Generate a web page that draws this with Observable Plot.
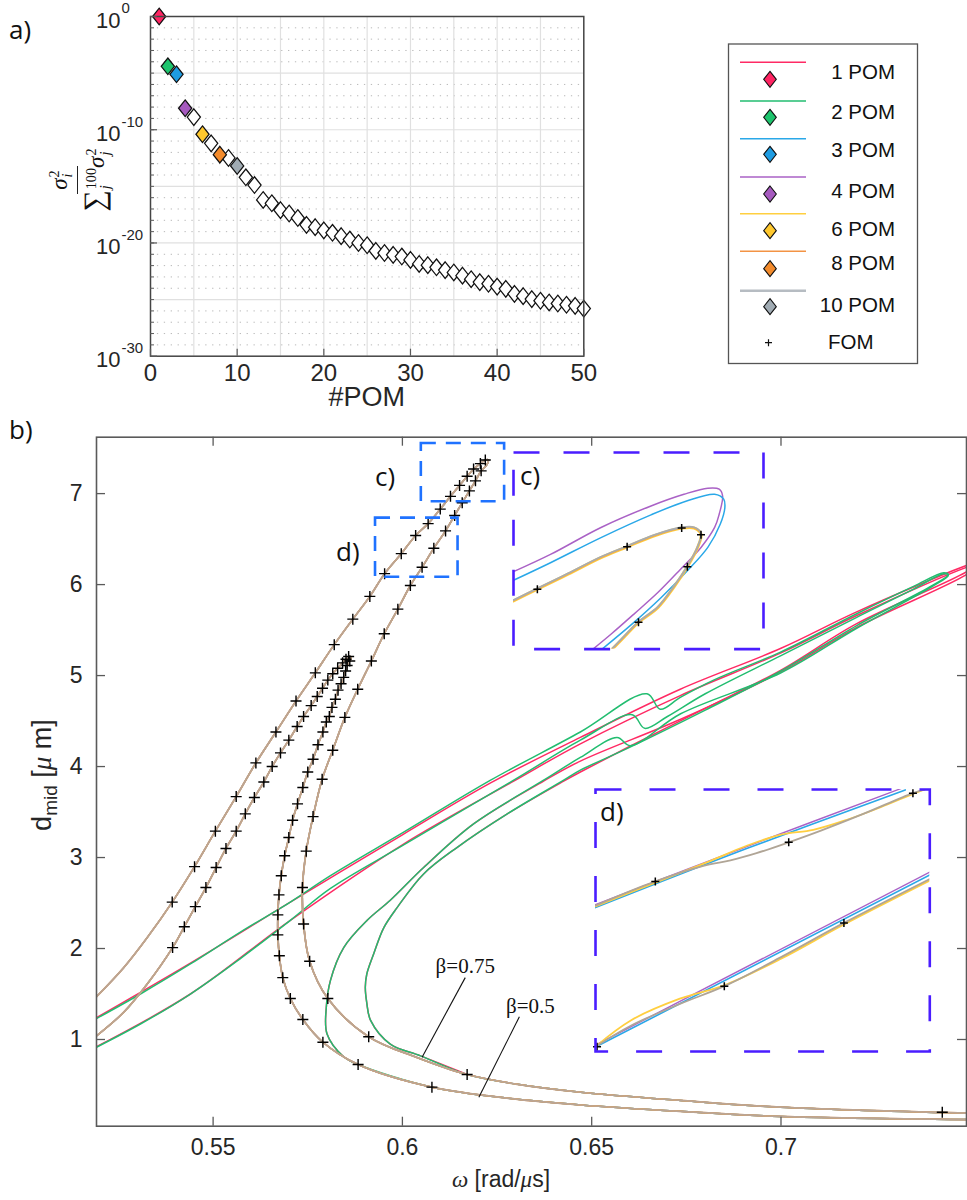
<!DOCTYPE html>
<html><head><meta charset="utf-8">
<script src="https://cdn.jsdelivr.net/npm/d3@7"></script>
<script src="https://cdn.jsdelivr.net/npm/@observablehq/plot@0.6"></script>
<style>
html,body{margin:0;padding:0;background:#fff;}
#root{position:relative;width:967px;height:1200px;overflow:hidden;font-family:"Liberation Sans",Arial,sans-serif;color:#1a1a1a;}
#root > *{position:absolute;}
.tag{font-family:"Open Sans","Noto Sans",sans-serif;font-size:26px;line-height:1;color:#111;}
.it{font-family:"Liberation Serif","DejaVu Serif",serif;font-style:italic;}
.frac{display:inline-flex;flex-direction:column;align-items:center;font-family:"Liberation Serif","DejaVu Serif",serif;font-size:23px;line-height:1.0;color:#111;}
.frac .num{padding:0 4px 2px;border-bottom:1.6px solid #222;}
.frac .den{padding-top:1px;}
.ss{display:inline-flex;flex-direction:column;font-size:0.62em;line-height:0.95;vertical-align:middle;margin-left:1px;}
</style></head>
<body><div id="root"></div>
<script>
// ---------------- DATA : panel a ----------------
const pomIndex = [1,2,3,4,5,6,7,8,9,10,11,12,13,14,15,16,17,18,19,20,21,22,23,24,25,26,27,28,29,30,31,32,33,34,35,36,37,38,39,40,41,42,43,44,45,46,47,48,49,50];
const energyRatio = [1e0,4.0e-5,7.9e-6,7.9e-9,1.3e-9,4.0e-11,6.3e-12,6.3e-13,3.2e-13,6.3e-14,6.3e-15,1.3e-15,6.3e-17,3.2e-17,7.9e-18,4.0e-18,1.6e-18,4.0e-19,2.5e-19,1.3e-19,7.9e-20,4.0e-20,2.0e-20,1.0e-20,6.3e-21,2.0e-21,1.3e-21,8.9e-22,6.3e-22,3.2e-22,1.4e-22,1.1e-22,7.1e-23,4.0e-23,2.5e-23,1.3e-23,6.3e-24,3.5e-24,2.5e-24,1.4e-24,8.9e-25,3.2e-25,2.0e-25,1.1e-25,7.9e-26,5.6e-26,4.5e-26,3.5e-26,2.8e-26,1.6e-26];
const highlightIndex = [1,2,3,4,6,8,10];
const seriesLabels = ["1 POM","2 POM","3 POM","4 POM","6 POM","8 POM","10 POM","FOM"];
const markerColors = ["#ff2462","#1dc46d","#1e9ce2","#a65abf","#ffc82e","#f38b2c","#a0abb3"];
const lineColors   = ["#ff2a64","#22bd70","#2aa8e8","#aa62c6","#ffcf40","#f39344","#b6bcc2"];
const aXTicks = [0,10,20,30,40,50];
const aYTicks = [1,1e-10,1e-20,1e-30];
const aYTickExp = ["0","-10","-20","-30"];

// ---------------- DATA : panel b (omega [rad/us], d_mid [um]) ----------------
const omegaTicks = [0.55,0.6,0.65,0.7];
const dTicks = [1,2,3,4,5,6,7];

// beta = 0.75 : full order model points
const fomOuterW = [0.5392,0.5451,0.5506,0.5561,0.5613,0.5666,0.5719,0.5770,0.5820,0.5869,0.5914,0.5953,0.5997,0.6035,0.6068,0.6100,0.6127,0.6151,0.6171,0.6188,0.6206,0.6219,0.6208,0.6193,0.6177,0.6158,0.6138,0.6114,0.6083,0.6052,0.6021,0.5988,0.5952,0.5918,0.5882,0.5848,0.5816,0.5788,0.5764,0.5746,0.5736,0.5739,0.5755,0.5803,0.5911,0.6171,0.7426];
const fomOuterD = [2.51,2.90,3.29,3.67,4.04,4.38,4.72,5.03,5.34,5.62,5.87,6.12,6.34,6.54,6.67,6.83,6.97,7.09,7.19,7.27,7.33,7.37,7.25,7.14,7.03,6.90,6.76,6.59,6.40,6.19,5.99,5.73,5.46,5.16,4.85,4.54,4.18,3.86,3.45,3.07,2.67,2.27,1.86,1.45,1.03,0.615,0.20];
// beta = 0.5 : full order model points
const fomInnerW = [0.5393,0.5424,0.5453,0.5481,0.5508,0.5534,0.5561,0.5585,0.5609,0.5634,0.5656,0.5678,0.5700,0.5722,0.5739,0.5759,0.5775,0.5789,0.5803,0.5816,0.5829,0.5842,0.5851,0.5858,0.5861,0.5854,0.5850,0.5845,0.5838,0.5830,0.5823,0.5814,0.5807,0.5799,0.5790,0.5777,0.5764,0.5750,0.5737,0.5723,0.5710,0.5700,0.5689,0.5680,0.5674,0.5671,0.5671,0.5675,0.5684,0.5704,0.5737,0.5790,0.5883,0.6078];
const fomInnerD = [2.01,2.24,2.46,2.67,2.89,3.10,3.29,3.48,3.66,3.83,4.00,4.15,4.29,4.44,4.55,4.67,4.77,4.86,4.95,5.02,5.08,5.14,5.18,5.21,5.16,5.11,5.05,4.98,4.91,4.84,4.74,4.65,4.55,4.49,4.38,4.24,4.08,3.94,3.77,3.59,3.41,3.22,3.02,2.80,2.59,2.37,2.15,1.92,1.68,1.45,1.22,0.97,0.725,0.476];

// converged POM response curves (3..10 POM overlap at this scale)
const pomOuterW = [0.5192,0.5264,0.5326,0.5392,0.5451,0.5506,0.5561,0.5613,0.5666,0.5719,0.5770,0.5820,0.5869,0.5914,0.5953,0.5997,0.6035,0.6068,0.6100,0.6127,0.6151,0.6171,0.6188,0.6206,0.6219,0.6227,0.6222,0.6208,0.6193,0.6177,0.6158,0.6138,0.6114,0.6083,0.6052,0.6021,0.5988,0.5952,0.5918,0.5882,0.5848,0.5816,0.5788,0.5764,0.5746,0.5736,0.5739,0.5755,0.5803,0.5911,0.6040,0.6171,0.6300,0.6471,0.6735,0.6999,0.7493];
const pomOuterD = [1.47,1.79,2.12,2.51,2.90,3.29,3.67,4.04,4.38,4.72,5.03,5.34,5.62,5.87,6.12,6.34,6.54,6.67,6.83,6.97,7.09,7.19,7.27,7.33,7.37,7.37,7.31,7.25,7.14,7.03,6.90,6.76,6.59,6.40,6.19,5.99,5.73,5.46,5.16,4.85,4.54,4.18,3.86,3.45,3.07,2.67,2.27,1.86,1.45,1.03,0.80,0.615,0.51,0.42,0.33,0.256,0.19];
const pomInnerW = [0.5192,0.5264,0.5326,0.5393,0.5424,0.5453,0.5481,0.5508,0.5534,0.5561,0.5585,0.5609,0.5634,0.5656,0.5678,0.5700,0.5722,0.5739,0.5759,0.5775,0.5789,0.5803,0.5816,0.5829,0.5842,0.5851,0.5858,0.5864,0.5861,0.5854,0.5850,0.5845,0.5838,0.5830,0.5823,0.5814,0.5807,0.5799,0.5790,0.5777,0.5764,0.5750,0.5737,0.5723,0.5710,0.5700,0.5689,0.5680,0.5674,0.5671,0.5671,0.5675,0.5684,0.5704,0.5737,0.5790,0.5883,0.6078,0.6300,0.6471,0.6735,0.6999,0.7493];
const pomInnerD = [1.04,1.30,1.61,2.01,2.24,2.46,2.67,2.89,3.10,3.29,3.48,3.66,3.83,4.00,4.15,4.29,4.44,4.55,4.67,4.77,4.86,4.95,5.02,5.08,5.14,5.18,5.21,5.20,5.16,5.11,5.05,4.98,4.91,4.84,4.74,4.65,4.55,4.49,4.38,4.24,4.08,3.94,3.77,3.59,3.41,3.22,3.02,2.80,2.59,2.37,2.15,1.92,1.68,1.45,1.22,0.97,0.725,0.476,0.345,0.28,0.21,0.154,0.12];

// 2 POM (green) curves
const pom2OuterW = [0.5192,0.5308,0.5440,0.5572,0.5704,0.5810,0.6000,0.6233,0.6470,0.6646,0.6681,0.6734,0.6822,0.7000,0.7200,0.7350,0.7430,0.7442,0.7400,0.7200,0.7000,0.6800,0.6600,0.6470,0.6426,0.6277,0.6144,0.6056,0.5986,0.5951,0.5924,0.5906,0.5902,0.5906,0.5916,0.5968,0.6048,0.6171,0.6300,0.6471,0.6735,0.6999,0.7493];
const pom2OuterD = [1.23,1.50,1.83,2.18,2.51,2.80,3.27,3.85,4.38,4.80,4.63,4.76,4.95,5.26,5.68,5.98,6.13,6.11,5.99,5.55,5.05,4.62,4.21,3.96,3.85,3.48,3.11,2.82,2.45,2.23,1.94,1.72,1.575,1.40,1.21,0.95,0.82,0.615,0.51,0.42,0.33,0.256,0.19];
const pom2InnerW = [0.5192,0.5308,0.5440,0.5572,0.5704,0.5810,0.6000,0.6294,0.6470,0.6607,0.6640,0.6700,0.6800,0.7000,0.7200,0.7350,0.7430,0.7442,0.7400,0.7200,0.7000,0.6735,0.6602,0.6567,0.6470,0.6373,0.6188,0.6056,0.5968,0.5907,0.5845,0.5810,0.5799,0.5801,0.5845,0.5883,0.6078,0.6300,0.6471,0.6735,0.6999,0.7493];
const pom2InnerD = [0.915,1.17,1.50,1.89,2.31,2.66,3.13,3.85,4.29,4.57,4.42,4.55,4.80,5.22,5.64,5.95,6.12,6.10,5.98,5.52,5.03,4.58,4.23,4.32,4.10,3.85,3.37,2.89,2.53,2.31,2.01,1.65,1.355,1.06,0.81,0.725,0.476,0.345,0.28,0.21,0.154,0.12];
// 1 POM (red) curves
const pom1OuterW = [0.5192,0.5440,0.5704,0.6000,0.6233,0.6470,0.6734,0.7000,0.7200,0.7490,0.7530,0.7490,0.7200,0.7000,0.6800,0.6600,0.6470,0.6426,0.6277,0.6144,0.6056,0.5986,0.5951,0.5924,0.5906,0.5902,0.5906,0.5916,0.5968,0.6048,0.6171];
const pom1OuterD = [1.24,1.84,2.51,3.25,3.82,4.32,4.85,5.30,5.70,6.21,6.26,6.14,5.57,5.06,4.64,4.22,3.94,3.84,3.48,3.11,2.82,2.45,2.23,1.94,1.72,1.575,1.40,1.21,0.95,0.82,0.615];
const pom1InnerW = [0.5192,0.5440,0.5704,0.6000,0.6294,0.6470,0.6734,0.7000,0.7200,0.7490,0.7530,0.7490,0.7200,0.7000,0.6735,0.6470,0.6373,0.6188,0.6056,0.5968,0.5907,0.5845,0.5810,0.5799,0.5801,0.5845,0.5883];
const pom1InnerD = [0.92,1.50,2.31,3.14,3.84,4.25,4.78,5.25,5.66,6.19,6.24,6.11,5.53,5.04,4.52,4.06,3.84,3.37,2.89,2.53,2.31,2.01,1.65,1.355,1.06,0.81,0.725];

// beta annotations
const betaText = ["β=0.75","β=0.5"];
const betaTextW = [0.6166,0.6338], betaTextD = [1.81,1.36];
const betaLinkW1 = [0.6166,0.6309], betaLinkD1 = [1.68,1.25];
const betaLinkW2 = [0.6052,0.6202], betaLinkD2 = [0.805,0.366];
// zoom windows (c) and (d)
const zoomName = ["c","d"];
const zoomW1 = [0.605,0.5929], zoomW2 = [0.627,0.6147];
const zoomD1 = [6.91,6.08],    zoomD2 = [7.55,6.73];

// ---------------- DATA : inset c ----------------
const cPurpleW = [0.6050,0.6083,0.6127,0.6171,0.6200,0.6221,0.6231,0.6234,0.6231,0.6227,0.6215,0.6197,0.6177,0.6156,0.6136,0.6120];
const cPurpleD = [7.162,7.219,7.306,7.376,7.414,7.434,7.431,7.409,7.349,7.306,7.241,7.170,7.094,7.024,6.959,6.910];
const cBlueW = [0.6050,0.6083,0.6127,0.6171,0.6203,0.6227,0.6235,0.6236,0.6232,0.6221,0.6203,0.6180,0.6156,0.6128];
const cBlueD = [7.134,7.192,7.273,7.347,7.393,7.414,7.398,7.371,7.317,7.241,7.165,7.078,6.997,6.910];
const cPomW = [0.6050,0.6071,0.6098,0.6127,0.6150,0.6174,0.6198,0.6209,0.6215,0.6212,0.6203,0.6191,0.6177,0.6160,0.6147,0.6137];
const cPomD = [7.067,7.105,7.154,7.208,7.243,7.279,7.304,7.304,7.284,7.241,7.178,7.111,7.045,6.997,6.948,6.910];
const cFomW = [0.6071,0.6150,0.6198,0.6215,0.6203,0.6160];
const cFomD = [7.105,7.243,7.304,7.282,7.178,6.997];

// ---------------- DATA : inset d ----------------
const dPurpleUpW = [0.5929,0.6028,0.6128], dPurpleUpD = [6.444,6.589,6.732];
const dBlueUpW = [0.5929,0.6028,0.6131],   dBlueUpD = [6.437,6.584,6.729];
const dGrayUpW = [0.5929,0.5968,0.6000,0.6017,0.6034,0.6055,0.6076,0.6104,0.6136,0.6147];
const dGrayUpD = [6.442,6.502,6.541,6.554,6.572,6.599,6.628,6.670,6.721,6.734];
const dYellowUpW = [0.5929,0.5968,0.6002,0.6028,0.6050,0.6071,0.6093,0.6115,0.6136,0.6145];
const dYellowUpD = [6.440,6.499,6.550,6.591,6.618,6.630,6.655,6.686,6.719,6.732];
const dPurpleLoW = [0.5929,0.6147], dPurpleLoD = [6.096,6.525];
const dBlueLoW = [0.5929,0.6147],   dBlueLoD = [6.091,6.518];
const dGrayLoW = [0.5929,0.5952,0.5984,0.6013,0.6050,0.6091,0.6147];
const dGrayLoD = [6.092,6.144,6.198,6.242,6.314,6.399,6.508];
const dYellowLoW = [0.5929,0.5952,0.5984,0.6013,0.6050,0.6091,0.6147];
const dYellowLoD = [6.092,6.157,6.211,6.244,6.310,6.395,6.504];
const dFomW = [0.5968,0.6055,0.6136,0.5930,0.6013,0.6091];
const dFomD = [6.502,6.599,6.721,6.092,6.242,6.399];

// ---------------- helpers ----------------
const root = document.getElementById("root");
function put(el, left, top){ el.style.left = left + "px"; el.style.top = top + "px"; root.appendChild(el); return el; }
function html(str){ const d = document.createElement("div"); d.innerHTML = str; return d.firstElementChild; }
const pts = (w, d) => w.map((x, i) => ({w: x, d: d[i]}));
const diamond = {draw(ctx){ ctx.moveTo(0,-8.3); ctx.lineTo(6.6,0); ctx.lineTo(0,8.3); ctx.lineTo(-6.6,0); ctx.closePath(); }};
const plus = s => ({draw(ctx){ ctx.moveTo(-s,0); ctx.lineTo(s,0); ctx.moveTo(0,-s); ctx.lineTo(0,s); }});
const baseStyle = {background:"transparent", fontFamily:"Liberation Sans, Arial, sans-serif", color:"#262626", overflow:"visible"};
const axisGray = "#5a5a5a";

// ---------------- panel a ----------------
{
  const W = 600, H = 420, mL = 150, mT = 16, mR = 16.7, mB = 64.3;
  const innerW = W - mL - mR, innerH = H - mT - mB;
  const aData = pomIndex.map((n, i) => ({n, v: energyRatio[i], fill: highlightIndex.includes(n) ? markerColors[highlightIndex.indexOf(n)] : "#ffffff"}));
  const majorDec = [1e-5,1e-10,1e-15,1e-20,1e-25];
  const minorDec = [];
  for (let e = -1; e > -30; e--) if (e % 5 !== 0) minorDec.push(Math.pow(10, e));
  const xGrid = [5,10,15,20,25,30,35,40,45];
  const allDec = [...majorDec, ...minorDec];
  const plotA = Plot.plot({
    width: W, height: H, marginLeft: mL, marginTop: mT, marginRight: mR, marginBottom: mB,
    x: {domain: [0, 50]},
    y: {type: "log", domain: [1e-30, 1], axis: null},
    color: {type: "identity"},
    style: {...baseStyle, fontSize: "22px"},
    marks: [
      Plot.ruleY(minorDec, {stroke: "#b9b9b9", strokeDasharray: "1.3,5.6", strokeWidth: 1}),
      Plot.ruleX(xGrid, {stroke: "#e0e0e0", strokeWidth: 1.2}),
      Plot.ruleY(majorDec, {stroke: "#e0e0e0", strokeWidth: 1.2}),
      Plot.dot(aData.filter(d => d.fill === "#ffffff"), {x: "n", y: "v", symbol: diamond, fill: "fill", stroke: "#111", strokeWidth: 1.25}),
      Plot.dot(aData.filter(d => d.fill !== "#ffffff"), {x: "n", y: "v", symbol: diamond, fill: "fill", stroke: "#111", strokeWidth: 1.25}),
      Plot.frame({stroke: "#444", strokeWidth: 1.5}),
      Plot.tickX(aXTicks, {x: d => d, insetTop: innerH - 7, stroke: axisGray, strokeWidth: 1.2}),
      Plot.tickY(aYTicks, {y: d => d, insetRight: innerW - 7, stroke: axisGray, strokeWidth: 1.2}),
      Plot.tickY(allDec, {y: d => d, insetRight: innerW - 4, stroke: axisGray, strokeWidth: 1}),
      Plot.axisX(aXTicks, {tickSize: 0, tickPadding: 8, fontSize: 24, label: null, tickFormat: d => String(d)}),
      Plot.text(aYTicks, {y: d => d, frameAnchor: "left", text: () => "10", textAnchor: "end", dx: -30, dy: 4, fontSize: 22, fill: "#262626"}),
      Plot.text(aYTicks, {y: d => d, frameAnchor: "left", text: (d, i) => aYTickExp[i], textAnchor: "start", dx: -29, dy: -8, fontSize: 15, fill: "#262626"})
    ]
  });
  put(plotA, 0, 0);
}
put(html('<div class="tag">a)</div>'), 9, 16);
put(html('<div style="font-size:27px;color:#262626;width:200px;text-align:center;line-height:1">#POM</div>'), 266.7, 384);
// fraction y label (rotated)
{
  const f = html('<div style="width:140px;height:70px;display:flex;align-items:center;justify-content:center;transform:rotate(-90deg);">' +
    '<span class="frac"><span class="num"><span class="it">σ</span><span class="ss"><span>2</span><span class="it">i</span></span></span>' +
    '<span class="den"><span style="font-size:1.3em">∑</span><span class="ss"><span>100</span><span class="it">j</span></span><span class="it">σ</span><span class="ss"><span>2</span><span class="it">j</span></span></span></span></div>');
  put(f, 80 - 70, 180 - 35);
}

// ---------------- legend ----------------
{
  const svg = d3.create("svg").attr("width", 967).attr("height", 420).style("overflow", "visible");
  svg.append("rect").attr("x", 728.5).attr("y", 44).attr("width", 189).attr("height", 319.5)
    .attr("fill", "#fff").attr("stroke", "#555").attr("stroke-width", 1.3);
  const lineY = [62.3,101,138.7,177,213.7,251.3,290.7];
  const diaY  = [79.3,117.3,154.3,194,230.7,268.7,306.7];
  const textY = [72,111.7,150,190.7,229.3,262.7,305];
  seriesLabels.slice(0, 7).forEach((lab, i) => {
    svg.append("line").attr("x1", 740).attr("x2", 806).attr("y1", lineY[i]).attr("y2", lineY[i])
      .attr("stroke", lineColors[i]).attr("stroke-width", i === 6 ? 2.4 : 1.6);
    svg.append("path").attr("d", "M0,-8L6.3,0L0,8L-6.3,0Z").attr("transform", `translate(770,${diaY[i]})`)
      .attr("fill", markerColors[i]).attr("stroke", "#111").attr("stroke-width", 1.1);
    svg.append("text").attr("x", 895).attr("y", textY[i]).attr("dy", "0.35em").attr("text-anchor", "end")
      .attr("font-size", 20.5).attr("font-family", "Liberation Sans, Arial, sans-serif").attr("fill", "#111").text(lab);
  });
  svg.append("path").attr("d", "M-3.5,0H3.5M0,-3.5V3.5").attr("transform", "translate(768.5,342.7)").attr("stroke", "#111").attr("stroke-width", 1.2);
  svg.append("text").attr("x", 828).attr("y", 341.7).attr("dy", "0.35em").attr("font-size", 20.5)
    .attr("font-family", "Liberation Sans, Arial, sans-serif").attr("fill", "#111").text(seriesLabels[7]);
  put(svg.node(), 0, 0);
}

// ---------------- panel b ----------------
{
  const W = 967, H = 780, mL = 96, mR = 1, mT = 16.7, mB = 74.3;
  const innerW = W - mL - mR, innerH = H - mT - mB;
  const lineOpt = (stroke, sw, extra = {}) => ({x: "w", y: "d", stroke, strokeWidth: sw, curve: "catmull-rom", clip: true, ...extra});
  const betaRows = betaText.map((t, i) => ({t, w: betaTextW[i], d: betaTextD[i], w1: betaLinkW1[i], d1: betaLinkD1[i], w2: betaLinkW2[i], d2: betaLinkD2[i]}));
  const zoomRows = zoomName.map((n, i) => ({n, w1: zoomW1[i], w2: zoomW2[i], d1: zoomD1[i], d2: zoomD2[i]}));
  const plotB = Plot.plot({
    width: W, height: H, marginLeft: mL, marginRight: mR, marginTop: mT, marginBottom: mB,
    x: {domain: [0.5192, 0.749]},
    y: {domain: [0.047, 7.62]},
    style: {...baseStyle, fontSize: "23px"},
    marks: [
      Plot.line(pts(pom1OuterW, pom1OuterD), lineOpt(lineColors[0], 1.5)),
      Plot.line(pts(pom1InnerW, pom1InnerD), lineOpt(lineColors[0], 1.5)),
      Plot.line(pts(pom2OuterW, pom2OuterD), lineOpt(lineColors[1], 1.5)),
      Plot.line(pts(pom2InnerW, pom2InnerD), lineOpt(lineColors[1], 1.5)),
      // 3,4,6,8,10 POM coincide with each other at this scale
      ...[2,3,4].flatMap(k => [Plot.line(pts(pomOuterW, pomOuterD), lineOpt(lineColors[k], 1.5)), Plot.line(pts(pomInnerW, pomInnerD), lineOpt(lineColors[k], 1.5))]),
      Plot.line(pts(pomOuterW, pomOuterD), lineOpt(lineColors[5], 1.7)),
      Plot.line(pts(pomInnerW, pomInnerD), lineOpt(lineColors[5], 1.7)),
      Plot.line(pts(pomOuterW, pomOuterD), lineOpt("#a3acb4", 1.7, {strokeOpacity: 0.72})),
      Plot.line(pts(pomInnerW, pomInnerD), lineOpt("#a3acb4", 1.7, {strokeOpacity: 0.72})),
      Plot.dot(pts(fomOuterW, fomOuterD), {x: "w", y: "d", symbol: plus(5.5), stroke: "#000", strokeWidth: 1.4, fill: "none"}),
      Plot.dot(pts(fomInnerW, fomInnerD), {x: "w", y: "d", symbol: plus(5.5), stroke: "#000", strokeWidth: 1.4, fill: "none"}),
      Plot.rect(zoomRows, {x1: "w1", x2: "w2", y1: "d1", y2: "d2", fill: "none", stroke: "#1f72ff", strokeWidth: 2.6, strokeDasharray: "15,10"}),
      Plot.link(betaRows, {x1: "w1", y1: "d1", x2: "w2", y2: "d2", stroke: "#111", strokeWidth: 1.1}),
      Plot.text(betaRows, {x: "w", y: "d", text: "t", fontSize: 21, fontFamily: "Liberation Serif, DejaVu Serif, serif", fill: "#111"}),
      Plot.frame({stroke: "#5a5a5a", strokeWidth: 1.6}),
      Plot.tickX(omegaTicks, {x: d => d, insetTop: innerH - 9, stroke: axisGray, strokeWidth: 1.3}),
      Plot.tickX(omegaTicks, {x: d => d, insetBottom: innerH - 9, stroke: axisGray, strokeWidth: 1.3}),
      Plot.tickY(dTicks, {y: d => d, insetRight: innerW - 9, stroke: axisGray, strokeWidth: 1.3}),
      Plot.tickY(dTicks, {y: d => d, insetLeft: innerW - 9, stroke: axisGray, strokeWidth: 1.3}),
      Plot.axisX(omegaTicks, {tickSize: 0, tickPadding: 12, fontSize: 23, label: null, tickFormat: d => String(d)}),
      Plot.axisY(dTicks, {tickSize: 0, tickPadding: 14, fontSize: 23, label: null, tickFormat: d => String(d)})
    ]
  });
  put(plotB, 0, 420);
}
put(html('<div class="tag">b)</div>'), 9, 416);
put(html('<div class="tag">c)</div>'), 375, 463);
put(html('<div class="tag">d)</div>'), 336, 538);
put(html('<div style="width:260px;text-align:center;font-size:23px;line-height:1;color:#262626"><span class="it">ω</span> [rad/<span class="it">μ</span>s]</div>'), 501 - 130, 1168);
put(html('<div style="width:260px;height:34px;text-align:center;font-size:27px;line-height:34px;color:#262626;transform:rotate(-90deg);white-space:nowrap">d<sub style="font-size:19px">mid</sub> [<span class="it">μ</span> m]</div>'), 42 - 130, 775 - 17);

// ---------------- inset c ----------------
{
  const pad = 3, fx = 512.7, fy = 451.7, fw = 250, fh = 196.6;
  const lo = (stroke, sw, extra = {}) => ({x: "w", y: "d", stroke, strokeWidth: sw, curve: "catmull-rom", clip: true, ...extra});
  const plotC = Plot.plot({
    width: fw + 2 * pad, height: fh + 2 * pad, margin: pad,
    x: {domain: [0.605, 0.627], axis: null}, y: {domain: [6.91, 7.55], axis: null},
    style: baseStyle,
    marks: [
      Plot.line(pts(cPurpleW, cPurpleD), lo(lineColors[3], 1.5)),
      Plot.line(pts(cBlueW, cBlueD), lo(lineColors[2], 1.5)),
      Plot.line(pts(cPomW, cPomD), lo(lineColors[4], 3)),
      Plot.line(pts(cPomW, cPomD), lo(lineColors[5], 1.4, {strokeOpacity: 0.6})),
      Plot.line(pts(cPomW, cPomD), lo("#a8acb0", 1.8, {dy: -0.8})),
      Plot.dot(pts(cFomW, cFomD), {x: "w", y: "d", symbol: plus(4), stroke: "#000", strokeWidth: 1.5, fill: "none"}),
      Plot.frame({stroke: "#4a1dff", strokeWidth: 2.6, strokeDasharray: "26,24"})
    ]
  });
  put(plotC, fx - pad, fy - pad);
}
put(html('<div class="tag">c)</div>'), 520, 462);

// ---------------- inset d ----------------
{
  const pad = 3, fx = 595, fy = 789, fw = 334.3, fh = 262;
  const lo = (stroke, sw, extra = {}) => ({x: "w", y: "d", stroke, strokeWidth: sw, curve: "catmull-rom", clip: true, ...extra});
  const plotD = Plot.plot({
    width: fw + 2 * pad, height: fh + 2 * pad, margin: pad,
    x: {domain: [0.5929, 0.6147], axis: null}, y: {domain: [6.08, 6.73], axis: null},
    style: baseStyle,
    marks: [
      Plot.line(pts(dBlueUpW, dBlueUpD), lo(lineColors[2], 1.6)),
      Plot.line(pts(dPurpleUpW, dPurpleUpD), lo(lineColors[3], 1.4)),
      Plot.line(pts(dBlueLoW, dBlueLoD), lo(lineColors[2], 1.6)),
      Plot.line(pts(dPurpleLoW, dPurpleLoD), lo(lineColors[3], 1.4)),
      Plot.line(pts(dYellowUpW, dYellowUpD), lo(lineColors[4], 1.8)),
      Plot.line(pts(dYellowLoW, dYellowLoD), lo(lineColors[4], 1.8)),
      Plot.line(pts(dGrayUpW, dGrayUpD), lo("#b0a596", 1.8)),
      Plot.line(pts(dGrayLoW, dGrayLoD), lo("#b0a596", 1.8)),
      Plot.dot(pts(dFomW, dFomD), {x: "w", y: "d", symbol: plus(4), stroke: "#000", strokeWidth: 1.5, fill: "none"}),
      Plot.frame({stroke: "#4a1dff", strokeWidth: 2.6, strokeDasharray: "26,28"})
    ]
  });
  put(plotD, fx - pad, fy - pad);
}
put(html('<div class="tag">d)</div>'), 600, 798);
</script>
</body></html>
